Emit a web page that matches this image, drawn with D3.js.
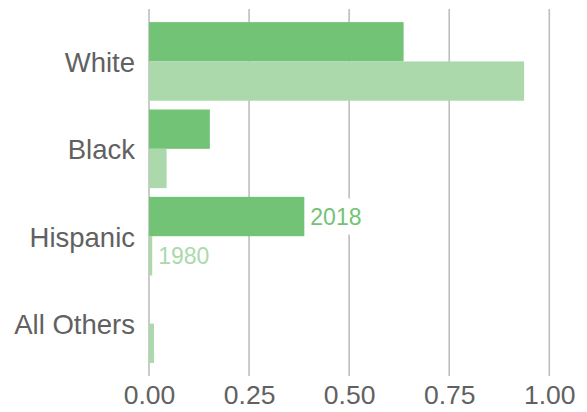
<!DOCTYPE html>
<meta charset="utf-8">
<script src="https://d3js.org/d3.v7.min.js"></script>
<style>
  body { margin: 0; background: #fff; }
  text { font-family: "Liberation Sans", Arial, sans-serif; }
</style>
<div id="my_dataviz"></div>
<script>

// data (share of group)
var groups = ["White", "Black", "Hispanic", "All Others"];
var years = ["2018", "1980"];
var share2018 = [0.636, 0.152, 0.388, 0];
var share1980 = [0.937, 0.044, 0.008, 0.0125];
var xTicks = [0, 0.25, 0.5, 0.75, 1];

var colors = { "2018": "#72c375", "1980": "#acd9ac" };

var margin = {top: 9, right: 38, bottom: 36, left: 149},
    width = 587 - margin.left - margin.right,
    height = 412 - margin.top - margin.bottom;

var svg = d3.select("#my_dataviz")
  .append("svg")
    .attr("width", 587)
    .attr("height", 412)
  .append("g")
    .attr("transform", "translate(" + margin.left + "," + margin.top + ")");

var x = d3.scaleLinear()
  .domain([0, 1])
  .range([0, 400.3]);

var y = d3.scaleBand()
  .domain(groups)
  .range([0, height])
  .paddingInner(0.1)
  .paddingOuter(0.15);

var ySub = d3.scaleBand()
  .domain(years)
  .range([0, y.bandwidth()]);

// vertical grid lines
svg.append("g")
  .selectAll("line")
  .data(xTicks)
  .enter()
  .append("line")
    .attr("x1", function(d) { return x(d); })
    .attr("x2", function(d) { return x(d); })
    .attr("y1", 0)
    .attr("y2", height)
    .attr("stroke", "#bebebe")
    .attr("stroke-width", 1.6);

// bars
var rows = groups.map(function(g, i) {
  return { group: g, values: [
    { year: "2018", value: share2018[i] },
    { year: "1980", value: share1980[i] }
  ]};
});

svg.append("g")
  .selectAll("g")
  .data(rows)
  .enter()
  .append("g")
    .attr("transform", function(d) { return "translate(0," + y(d.group) + ")"; })
  .selectAll("rect")
  .data(function(d) { return d.values; })
  .enter()
  .append("rect")
    .attr("x", x(0))
    .attr("y", function(d) { return ySub(d.year); })
    .attr("width", function(d) { return x(d.value) - x(0); })
    .attr("height", ySub.bandwidth())
    .attr("fill", function(d) { return colors[d.year]; });

// year labels next to the Hispanic bars, with white box behind
var hisp = groups.indexOf("Hispanic");
var labels = [
  { year: "2018", value: share2018[hisp] },
  { year: "1980", value: share1980[hisp] }
];
var lab = svg.append("g")
  .selectAll("g")
  .data(labels)
  .enter()
  .append("g")
    .attr("transform", function(d) {
      return "translate(" + (x(d.value) + 6) + "," + (y("Hispanic") + ySub(d.year) + ySub.bandwidth() / 2) + ")";
    });
lab.append("rect")
  .attr("x", -3)
  .attr("y", -18)
  .attr("width", 58)
  .attr("height", 36)
  .attr("fill", "#fff");
lab.append("text")
  .attr("x", 0)
  .attr("dy", "0.36em")
  .style("font-size", "23px")
  .attr("fill", function(d) { return colors[d.year]; })
  .text(function(d) { return d.year; });

// axes
var yAxis = svg.append("g")
  .call(d3.axisLeft(y).tickSize(0).tickPadding(14));
yAxis.select(".domain").remove();
yAxis.selectAll("text")
  .attr("dy", "0.38em")
  .style("font-size", "27.5px")
  .attr("fill", "#616161");

var xAxis = svg.append("g")
  .attr("transform", "translate(0," + height + ")")
  .call(d3.axisBottom(x).tickValues(xTicks).tickFormat(d3.format(".2f")).tickSize(0).tickPadding(9));
xAxis.select(".domain").remove();
xAxis.selectAll("text")
  .style("font-size", "26.5px")
  .attr("fill", "#616161");

</script>
